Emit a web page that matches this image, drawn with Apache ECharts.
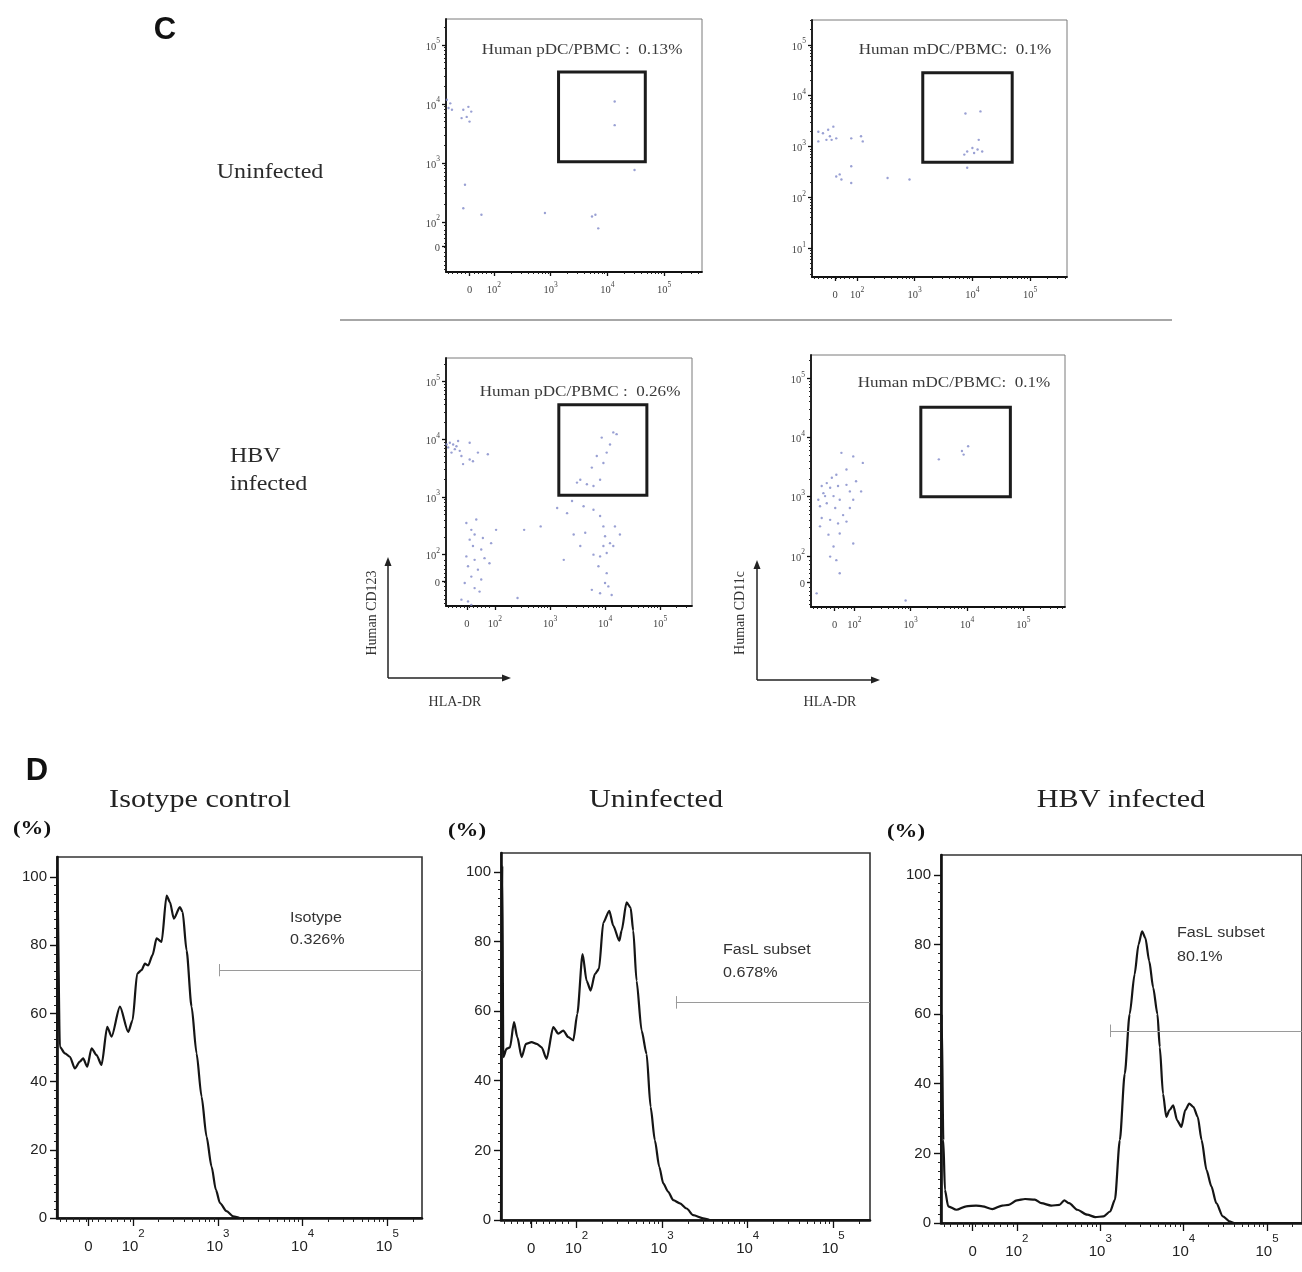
<!DOCTYPE html>
<html>
<head>
<meta charset="utf-8">
<script src="https://cdn.jsdelivr.net/npm/echarts@6/dist/echarts.min.js"></script>
<style>
  html, body { margin: 0; background: #fff; }
  #chart { width: 1302px; height: 1272px; }
</style>
</head>
<body>
<div id="chart"></div>
<script>
// Axis unit for every flow plot: decades, so 2 = 10^2, 3 = 10^3 ...
// the "0" tick sits in the linear part of the biexponential scale.

// ---- panel C : dot plots [HLA-DR, CD123 / CD11c] ----
const pdcUninfected = [
  [1.17,4.07],[1.23,4.01],[1.20,3.93],[1.26,3.90],[1.46,3.90],[1.55,3.95],[1.60,3.87],
  [1.52,3.78],[1.57,3.70],[1.43,3.76],[4.13,4.04],[4.13,3.64],[1.49,2.63],[1.46,2.23],
  [3.73,2.09],[3.79,2.12],[1.78,2.12],[4.48,2.88],[3.84,1.89],[2.90,2.15]
];
const mdcUninfected = [
  [1.33,3.29],[1.41,3.26],[1.50,3.33],[1.53,3.20],[1.56,3.13],[1.47,3.13],[1.59,3.39],
  [1.33,3.10],[1.64,3.16],[1.90,3.16],[2.07,3.20],[2.10,3.10],[1.70,2.45],[1.64,2.41],
  [1.73,2.35],[1.90,2.28],[2.53,2.38],[2.91,2.35],[3.86,2.84],[3.91,2.90],[4.00,2.97],
  [4.09,2.94],[4.17,2.90],[4.03,2.87],[4.11,3.13],[3.88,3.65],[4.14,3.69],[3.91,2.58],
  [1.90,2.61]
];
const pdcHbv = [
  [1.18,3.94],[1.24,3.91],[1.30,3.88],[1.27,3.83],[1.36,3.80],[1.21,3.77],[1.39,3.71],
  [1.54,3.65],[1.60,3.62],[1.69,3.77],[1.87,3.74],[1.54,3.94],[1.33,3.97],[1.15,3.86],
  [1.42,3.57],[1.12,3.91],
  [4.15,4.12],[4.21,4.09],[3.94,4.03],[4.09,3.91],[3.85,3.71],[3.76,3.51],[3.55,3.30],
  [3.91,3.30],[3.67,3.22],[4.03,3.77],[3.79,3.19],[3.49,3.25],[3.97,3.59],
  [3.40,2.93],[3.61,2.84],[3.79,2.78],[3.31,2.72],[3.13,2.81],[3.91,2.67],
  [3.43,2.35],[3.64,2.38],[4.00,2.32],[4.09,2.20],[4.15,2.15],[3.79,2.00],[3.91,1.97],
  [4.03,2.03],[4.18,2.49],[4.27,2.35],[3.97,2.49],[3.88,1.80],[4.03,1.68],[4.00,1.51],
  [4.06,1.45],[3.91,1.33],[4.12,1.30],[3.76,1.39],[3.97,2.15],[3.55,2.15],
  [1.48,2.55],[1.57,2.43],[1.63,2.35],[1.54,2.26],[1.60,2.15],[1.75,2.09],[1.48,1.97],
  [1.63,1.91],[1.81,1.94],[1.51,1.80],[1.69,1.74],[1.57,1.62],[1.75,1.57],[1.45,1.51],
  [1.63,1.42],[1.72,1.36],[1.39,1.22],[1.51,1.19],[1.57,1.13],[1.93,2.20],[2.02,2.43],
  [1.90,1.85],[1.78,2.29],[1.66,2.61],
  [2.41,1.25],[2.53,2.43],[2.83,2.49],[3.25,1.91]
];
const mdcHbv = [
  [1.68,3.37],[1.60,3.32],[1.51,3.23],[1.42,3.18],[1.57,3.15],[1.71,3.18],[1.86,3.20],
  [1.92,3.09],[1.45,3.06],[1.63,3.01],[1.74,2.95],[1.51,2.89],[1.39,2.84],[1.66,2.81],
  [1.92,2.81],[1.80,2.69],[1.42,2.64],[1.57,2.61],[1.71,2.55],[1.86,2.58],[1.54,2.36],
  [1.74,2.38],[1.63,2.16],[1.98,2.21],[1.57,1.99],[1.68,1.93],[1.74,1.71],[2.03,3.26],
  [2.12,3.09],[2.15,3.57],[1.77,3.74],[1.98,3.68],[1.39,2.50],[1.48,3.01],[1.36,2.95],
  [1.98,2.95],[1.86,3.46],
  [3.50,3.63],[3.91,3.77],[3.94,3.71],[4.02,3.85],[1.33,1.37],[2.91,1.25]
];

// gates: [xFrom, yFrom, xTo, yTo]
const pdcUninfectedGate = [3.14, 3.02, 4.67, 4.54];
const mdcUninfectedGate = [3.14, 2.69, 4.69, 4.45];
const pdcHbvGate = [3.16, 3.03, 4.76, 4.60];
const mdcHbvGate = [3.18, 3.00, 4.77, 4.51];

// ---- panel D : FasL histograms [decade, % of max] ----
const isotypeCurve = [
  [1.100,0],[1.102,102],[1.134,50.2],[1.193,48.3],[1.252,47.3],[1.311,43.9],[1.370,45.9],
  [1.409,46.8],[1.457,44.4],[1.508,49.8],[1.567,47.8],[1.626,44.9],[1.693,56.1],[1.744,53.2],
  [1.843,62.0],[1.941,54.6],[1.992,58.0],[2.047,71.7],[2.098,72.7],[2.138,74.6],[2.177,74.1],
  [2.228,77.1],[2.276,82.0],[2.335,81.0],[2.394,94.6],[2.433,92.7],[2.480,87.8],[2.551,91.2],
  [2.583,89.8],[2.630,78.5],[2.689,62.0],[2.748,48.3],[2.807,35.6],[2.866,23.9],[2.925,15.1],
  [2.976,8.3],[3.024,4.4],[3.102,2.0],[3.181,0.5],[3.260,0],[5.41,0]
];
const uninfectedCurve = [
  [1.116,0],[1.131,101.7],[1.143,46.8],[1.182,49.2],[1.221,49.6],[1.268,56.8],[1.307,52.5],
  [1.357,46.8],[1.408,50.6],[1.474,51.1],[1.533,50.6],[1.591,49.6],[1.649,46.3],[1.727,55.4],
  [1.786,53.5],[1.844,54.4],[1.903,52.5],[1.961,51.6],[2.008,59.2],[2.070,76.4],[2.117,68.7],
  [2.164,65.9],[2.214,70.6],[2.261,72.1],[2.312,85.4],[2.382,88.8],[2.429,84.5],[2.499,80.2],
  [2.526,83.1],[2.584,91.2],[2.631,89.7],[2.662,83.1],[2.701,68.7],[2.760,54.4],[2.818,47.7],
  [2.865,32.5],[2.915,22.9],[2.966,15.3],[3.013,10.5],[3.071,8.1],[3.130,5.7],[3.208,4.8],
  [3.286,3.3],[3.363,1.4],[3.480,0.5],[3.558,0],[5.43,0]
];
const hbvCurve = [
  [1.090,0],[1.098,60],[1.118,23.8],[1.137,9.5],[1.176,4.8],[1.275,3.8],[1.392,4.8],
  [1.510,5.0],[1.588,4.8],[1.706,4.0],[1.824,5.0],[1.902,5.2],[2.000,6.5],[2.098,6.9],
  [2.216,6.7],[2.294,5.7],[2.412,5.0],[2.510,5.2],[2.569,6.5],[2.627,5.7],[2.725,3.8],
  [2.843,2.4],[2.941,1.7],[3.039,1.9],[3.118,3.3],[3.176,6.7],[3.235,23.8],[3.294,42.9],
  [3.353,60.0],[3.412,71.4],[3.459,80.0],[3.502,83.8],[3.541,81.9],[3.588,75.2],[3.635,67.6],
  [3.686,60.0],[3.714,50.5],[3.753,37.1],[3.792,30.5],[3.831,32.4],[3.875,33.8],[3.922,29.5],
  [3.973,27.6],[4.020,32.4],[4.067,34.3],[4.118,33.3],[4.169,30.5],[4.216,23.8],[4.275,15.2],
  [4.333,10.5],[4.392,5.7],[4.471,1.9],[4.549,0.5],[4.608,0],[5.42,0]
];

// marker gates: [start decade, height]
const isotypeMarker = [3.016, 72.7];
const uninfectedMarker = [3.161, 62.5];
const hbvMarker = [3.118, 55.2];

const decadeTicks = [2, 3, 4, 5];
const logOnlyTicks = [1, 2, 3, 4, 5];
const percentTicks = [0, 20, 40, 60, 80, 100];

// ---------------------------------------------------------------
const SERIF = '"Liberation Serif", "DejaVu Serif", serif';
const SANS = '"Liberation Sans", Arial, sans-serif';

const grids = [], xAxes = [], yAxes = [], series = [];

function decadeLabel(zero) {
  return function (v) {
    if (zero !== null && Math.abs(v - zero) < 1e-6) return '{b|0}';
    return '{b|10}{s|' + Math.round(v) + '}';
  };
}

function minorDecadeTicks(min, max, zero) {
  const out = [];
  for (let k = Math.floor(min); k <= Math.ceil(max); k++) {
    if (zero !== null && k < 2) continue;
    for (let m = 2; m <= 9; m++) {
      const v = k + Math.log10(m);
      if (v > min && v < max) out.push(v);
    }
  }
  if (zero !== null) {
    for (let v = min + 0.04; v < 1.97; v += 0.075) out.push(v);
  }
  return out;
}

function logAxis(dim, gi, range, zero, major, st) {
  const ticks = (zero !== null ? [zero] : []).concat(major);
  const main = {
    type: 'value', gridIndex: gi, min: range[0], max: range[1],
    position: dim === 'x' ? 'bottom' : 'left',
    splitLine: { show: false },
    axisLine: { onZero: false, lineStyle: { color: '#111', width: st.axisW } },
    axisTick: { customValues: ticks, length: st.tickLen, lineStyle: { color: '#111', width: 1.3 } },
    axisLabel: {
      customValues: ticks, formatter: decadeLabel(zero),
      margin: dim === 'x' ? st.xMargin : st.yMargin,
      color: st.labelColor, fontFamily: st.font, rich: st.rich
    }
  };
  const minor = {
    type: 'value', gridIndex: gi, min: range[0], max: range[1],
    position: dim === 'x' ? 'bottom' : 'left',
    splitLine: { show: false }, axisLine: { show: false }, axisLabel: { show: false },
    axisTick: { customValues: minorDecadeTicks(range[0], range[1], zero), length: st.minorLen,
                lineStyle: { color: '#222', width: 1 } }
  };
  return [main, minor];
}

const dotStyle = {
  axisW: 1.8, tickLen: 4, minorLen: 2, xMargin: 9, yMargin: 6,
  labelColor: '#444', font: SERIF,
  rich: {
    b: { fontSize: 10.5, fontFamily: SERIF, color: '#444', lineHeight: 15, verticalAlign: 'bottom' },
    s: { fontSize: 7.5, fontFamily: SERIF, color: '#444', lineHeight: 15, verticalAlign: 'top' }
  }
};
const histStyle = {
  axisW: 2.6, tickLen: 8, minorLen: 4, xMargin: 10, yMargin: 8,
  labelColor: '#222', font: SANS,
  rich: {
    b: { fontSize: 15, fontFamily: SANS, color: '#222', lineHeight: 26, verticalAlign: 'bottom' },
    s: { fontSize: 11.5, fontFamily: SANS, color: '#222', lineHeight: 26, verticalAlign: 'top' }
  }
};

function addDotPlot(p) {
  const gi = grids.length;
  grids.push({ left: p.rect[0], top: p.rect[1], width: p.rect[2], height: p.rect[3],
               show: true, borderColor: '#7a7a7a', borderWidth: 1 });
  const xi = xAxes.length, yi = yAxes.length;
  xAxes.push(...logAxis('x', gi, p.x, p.xZero, decadeTicks, dotStyle));
  yAxes.push(...logAxis('y', gi, p.y, p.yZero, p.yTicks, dotStyle));
  const g = p.gate;
  series.push({
    type: 'scatter', xAxisIndex: xi, yAxisIndex: yi, data: p.data, silent: true,
    symbolSize: 2.4, itemStyle: { color: '#8088c8', opacity: 0.8 },
    markArea: {
      silent: true,
      itemStyle: { color: 'rgba(0,0,0,0)', borderColor: '#1c1c1c', borderWidth: 3 },
      data: [[{ coord: [g[0], g[1]] }, { coord: [g[2], g[3]] }]]
    }
  });
}

function addHistogram(p) {
  const gi = grids.length;
  grids.push({ left: p.rect[0], top: p.rect[1], width: p.rect[2], height: p.rect[3],
               show: true, borderColor: '#333', borderWidth: 1.6 });
  const xi = xAxes.length, yi = yAxes.length;
  xAxes.push(...logAxis('x', gi, p.x, 1.47, decadeTicks, histStyle));
  yAxes.push({
    type: 'value', gridIndex: gi, min: 0, max: p.yMax, position: 'left',
    splitLine: { show: false },
    axisLine: { lineStyle: { color: '#111', width: 2.6 } },
    axisTick: { customValues: percentTicks, length: 7, lineStyle: { color: '#111', width: 1.4 } },
    axisLabel: { customValues: percentTicks, margin: 10, fontSize: 15, fontFamily: SANS, color: '#222' }
  }, {
    type: 'value', gridIndex: gi, min: 0, max: p.yMax, position: 'left',
    splitLine: { show: false }, axisLine: { show: false }, axisLabel: { show: false },
    axisTick: { customValues: percentTicks.slice(0, -1).flatMap(v => [v + 2.5, v + 5, v + 7.5, v + 10, v + 12.5, v + 15, v + 17.5]),
                length: 3, lineStyle: { color: '#222', width: 1 } }
  });
  const m = p.marker;
  series.push({
    type: 'line', xAxisIndex: xi, yAxisIndex: yi, data: p.data, silent: true,
    symbol: 'none', smooth: 0.25, smoothMonotone: 'x',
    lineStyle: { color: '#151515', width: 2.2 },
    markLine: {
      silent: true, symbol: 'none', label: { show: false },
      lineStyle: { color: '#9a9a9a', width: 1, type: 'solid' },
      data: [
        [{ coord: [m[0], m[1]] }, { coord: [p.x[1], m[1]] }],
        [{ coord: [m[0], m[1] - 1.8] }, { coord: [m[0], m[1] + 1.8] }]
      ]
    }
  });
}

addDotPlot({ rect: [446, 19, 256, 253], x: [1.155, 5.67], xZero: 1.57, y: [1.15, 5.44], yZero: 1.58,
             yTicks: decadeTicks, data: pdcUninfected, gate: pdcUninfectedGate });
addDotPlot({ rect: [812, 20, 255, 257], x: [1.22, 5.64], xZero: 1.62, y: [0.43, 5.49], yZero: null,
             yTicks: logOnlyTicks, data: mdcUninfected, gate: mdcUninfectedGate });
addDotPlot({ rect: [446, 358, 246, 248], x: [1.11, 5.58], xZero: 1.49, y: [1.11, 5.41], yZero: 1.54,
             yTicks: decadeTicks, data: pdcHbv, gate: pdcHbvGate });
addDotPlot({ rect: [811, 355, 254, 252], x: [1.23, 5.74], xZero: 1.65, y: [1.14, 5.39], yZero: 1.56,
             yTicks: decadeTicks, data: mdcHbv, gate: mdcHbvGate });

addHistogram({ rect: [57, 857, 365, 361], x: [1.10, 5.41], yMax: 105.9, data: isotypeCurve, marker: isotypeMarker });
addHistogram({ rect: [501, 853, 369, 367], x: [1.116, 5.43], yMax: 105.4, data: uninfectedCurve, marker: uninfectedMarker });
addHistogram({ rect: [941, 855, 368, 368], x: [1.09, 5.42], yMax: 105.7, data: hbvCurve, marker: hbvMarker });

// ---- texts and hand-drawn axis arrows ----
function txt(x, y, text, font, opts) {
  opts = opts || {};
  return {
    type: 'text', x: x, y: y, scaleX: opts.sx || 1, rotation: opts.rot || 0, silent: true,
    style: { text: text, font: font, fill: opts.color || '#2a2a2a',
             textAlign: opts.align || 'center', textVerticalAlign: 'middle' }
  };
}
function arrowAxes(x0, y0, top, right) {
  const s = { stroke: '#222', lineWidth: 1.5 };
  return [
    { type: 'line', silent: true, shape: { x1: x0, y1: y0, x2: x0, y2: top + 6 }, style: s },
    { type: 'line', silent: true, shape: { x1: x0, y1: y0, x2: right - 6, y2: y0 }, style: s },
    { type: 'polygon', silent: true, shape: { points: [[x0, top], [x0 - 3.5, top + 9], [x0 + 3.5, top + 9]] }, style: { fill: '#222' } },
    { type: 'polygon', silent: true, shape: { points: [[right, y0], [right - 9, y0 - 3.5], [right - 9, y0 + 3.5]] }, style: { fill: '#222' } }
  ];
}

const serif = (px, w) => (w || 'normal') + ' ' + px + 'px ' + SERIF;
const sans = (px, w) => (w || 'normal') + ' ' + px + 'px ' + SANS;

const graphics = [
  txt(165, 30, 'C', sans(31, 'bold'), { color: '#111' }),
  txt(37, 771, 'D', sans(31, 'bold'), { color: '#111' }),

  txt(270, 173, 'Uninfected', serif(20), { sx: 1.2 }),
  txt(230, 457, 'HBV', serif(20), { sx: 1.2, align: 'left' }),
  txt(230, 485, 'infected', serif(20), { sx: 1.2, align: 'left' }),

  txt(582, 50, 'Human pDC/PBMC :  0.13%', serif(14), { sx: 1.22, color: '#3a3a3a' }),
  txt(955, 50, 'Human mDC/PBMC:  0.1%', serif(14), { sx: 1.22, color: '#3a3a3a' }),
  txt(580, 392, 'Human pDC/PBMC :  0.26%', serif(14), { sx: 1.22, color: '#3a3a3a' }),
  txt(954, 383, 'Human mDC/PBMC:  0.1%', serif(14), { sx: 1.22, color: '#3a3a3a' }),

  txt(372, 613, 'Human CD123', serif(14), { rot: Math.PI / 2, color: '#333' }),
  txt(740, 613, 'Human CD11c', serif(14), { rot: Math.PI / 2, color: '#333' }),
  txt(455, 702, 'HLA-DR', serif(14), { color: '#333' }),
  txt(830, 702, 'HLA-DR', serif(14), { color: '#333' }),

  { type: 'line', silent: true, shape: { x1: 340, y1: 320, x2: 1172, y2: 320 }, style: { stroke: '#8a8a8a', lineWidth: 1.5 } },

  txt(200, 800, 'Isotype control', serif(26), { sx: 1.16, color: '#222' }),
  txt(656, 800, 'Uninfected', serif(26), { sx: 1.16, color: '#222' }),
  txt(1121, 800, 'HBV infected', serif(26), { sx: 1.16, color: '#222' }),

  txt(32, 829, '(%)', serif(19, 'bold'), { sx: 1.2, color: '#111' }),
  txt(467, 831, '(%)', serif(19, 'bold'), { sx: 1.2, color: '#111' }),
  txt(906, 832, '(%)', serif(19, 'bold'), { sx: 1.2, color: '#111' }),

  txt(290, 918, 'Isotype', sans(14), { sx: 1.15, align: 'left', color: '#333' }),
  txt(290, 940, '0.326%', sans(14), { sx: 1.15, align: 'left', color: '#333' }),
  txt(723, 950, 'FasL subset', sans(14), { sx: 1.15, align: 'left', color: '#333' }),
  txt(723, 973, '0.678%', sans(14), { sx: 1.15, align: 'left', color: '#333' }),
  txt(1177, 933, 'FasL subset', sans(14), { sx: 1.15, align: 'left', color: '#333' }),
  txt(1177, 957, '80.1%', sans(14), { sx: 1.15, align: 'left', color: '#333' })
].concat(arrowAxes(388, 678, 557, 511), arrowAxes(757, 680, 560, 880));

const chart = echarts.init(document.getElementById('chart'), null, { renderer: 'canvas' });
chart.setOption({
  animation: false,
  backgroundColor: '#ffffff',
  grid: grids,
  xAxis: xAxes,
  yAxis: yAxes,
  series: series,
  graphic: graphics
});
</script>
</body>
</html>
